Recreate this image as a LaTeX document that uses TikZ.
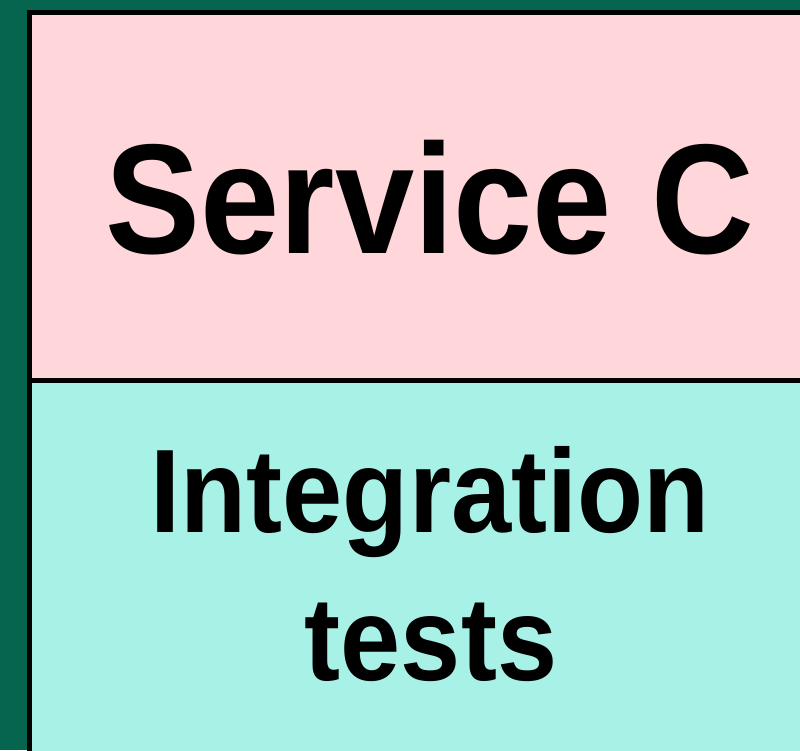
\documentclass[tikz,border=0pt]{standalone}
\usepackage{fontspec}
\newfontfamily\boxfont[FakeStretch=0.91]{Liberation Sans}
\definecolor{bggreen}{HTML}{05654F}
\definecolor{svcpink}{HTML}{FFD6DA}
\definecolor{testcyan}{HTML}{A8F1E7}
\tikzset{
	layerbox/.style={rectangle, draw=black, line width=0.05cm, inner sep=0, outer sep=0, anchor=north west, minimum width=9cm},
	layertext/.style={anchor=base, inner sep=0, font=\boxfont\bfseries},
}
\begin{document}
\begin{tikzpicture}
			\useasboundingbox (0,0) rectangle (8,-7.5);
			\fill[bggreen] (0,0) rectangle (8,-7.5);
			% stacked layers
			\node[layerbox, fill=svcpink, minimum height=3.68cm] (service) at (0.295,-0.125) {};
			\node[layerbox, fill=testcyan, minimum height=4.5cm] (integration) at (service.south west) {};
			% labels
			\node[layertext] (servicelabel) at (4.3,-2.53) {\fontsize{44.5}{50}\selectfont Service C};
			\node[layertext] (integrationlabel) at (4.3,-5.32) {\fontsize{33.8}{42}\selectfont Integration};
			\node[layertext] (testslabel) at (4.31,-6.8) {\fontsize{33.8}{42}\selectfont tests};
\end{tikzpicture}
\end{document}
